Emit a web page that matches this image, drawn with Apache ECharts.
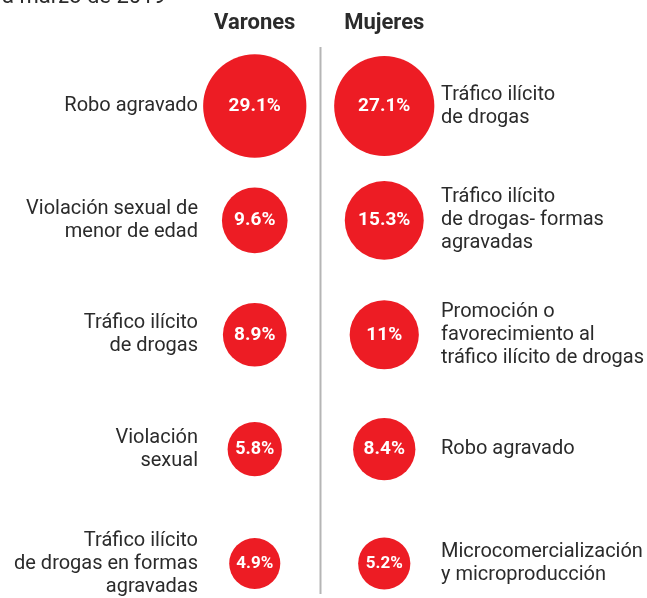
<!DOCTYPE html>
<html>
<head>
<meta charset="utf-8">
<script src="https://cdn.jsdelivr.net/npm/echarts@6/dist/echarts.min.js"></script>
<style>
html, body { margin: 0; padding: 0; background: #fff; }
#chart { width: 647px; height: 598px; }
</style>
</head>
<body>
<div id="chart"></div>
<script>
// columnas
const groups = ['Varones', 'Mujeres']

// delitos y porcentajes - varones
const varonesDelitos = [
  'Robo agravado',
  'Violación sexual de\nmenor de edad',
  'Tráfico ilícito\nde drogas',
  'Violación\nsexual',
  'Tráfico ilícito\nde drogas en formas\nagravadas'
]
const varonesPct = [29.1, 9.6, 8.9, 5.8, 4.9]

// delitos y porcentajes - mujeres
const mujeresDelitos = [
  'Tráfico ilícito\nde drogas',
  'Tráfico ilícito\nde drogas- formas\nagravadas',
  'Promoción o\nfavorecimiento al\ntráfico ilícito de drogas',
  'Robo agravado',
  'Microcomercialización\ny microproducción'
]
const mujeresPct = [27.1, 15.3, 11, 8.4, 5.2]

const textColor = '#2b2b2b'
const red = '#ed1c24'
const font = 'Roboto'

// diametro del circulo segun el porcentaje
const bubbleSize = (v) => 2 * (7.4 + 8.2 * Math.sqrt(v))

const toItems = (g, vals) => vals.map((v, i) => {
  const d = bubbleSize(v)
  return {
    value: [g, i, v],
    symbolSize: d,
    label: { fontSize: Math.min(19, Math.round(d / 3.0)) }
  }
})

const chart = echarts.init(document.getElementById('chart'))

const seriesBase = {
  type: 'scatter',
  symbol: 'circle',
  itemStyle: { color: red, opacity: 1 },
  label: {
    show: true,
    position: 'inside',
    color: '#fff',
    fontWeight: 'bold',
    fontFamily: font,
    formatter: (p) => p.data.value[2] + '%'
  },
  emphasis: { disabled: true }
}

chart.setOption({
  animation: false,
  grid: { left: 190, right: 197, top: 106, bottom: 33 },
  xAxis: {
    type: 'category',
    position: 'top',
    data: groups,
    boundaryGap: true,
    axisLine: { show: false },
    axisTick: { show: false },
    axisLabel: {
      margin: 72,
      color: textColor,
      fontFamily: font,
      fontWeight: 'bold',
      fontSize: 22
    }
  },
  yAxis: [
    {
      type: 'category',
      position: 'left',
      data: varonesDelitos,
      inverse: true,
      boundaryGap: false,
      axisLine: { show: false },
      axisTick: { show: false },
      splitLine: { show: false },
      axisLabel: {
        margin: -8,
        color: textColor,
        fontFamily: font,
        fontSize: 20,
        lineHeight: 23,
        align: 'right'
      }
    },
    {
      type: 'category',
      position: 'right',
      data: mujeresDelitos,
      inverse: true,
      boundaryGap: false,
      axisLine: { show: false },
      axisTick: { show: false },
      splitLine: { show: false },
      axisLabel: {
        margin: -8,
        color: textColor,
        fontFamily: font,
        fontSize: 20,
        lineHeight: 23,
        align: 'left'
      }
    }
  ],
  series: [
    Object.assign({}, seriesBase, { name: groups[0], data: toItems(0, varonesPct) }),
    Object.assign({}, seriesBase, { name: groups[1], data: toItems(1, mujeresPct) })
  ]
})

// linea divisoria entre columnas y titulo recortado
const x0 = chart.convertToPixel({ xAxisIndex: 0 }, 0)
const x1 = chart.convertToPixel({ xAxisIndex: 0 }, 1)
const mid = Math.round((x0 + x1) / 2) + 0.5
chart.setOption({
  graphic: [
    {
      type: 'line',
      shape: { x1: mid, y1: 47, x2: mid, y2: 594 },
      style: { stroke: '#b5b5b5', lineWidth: 2 },
      silent: true
    },
    {
      type: 'text',
      x: 2,
      y: 8,
      style: {
        text: 'a marzo de 2019',
        fill: textColor,
        font: '22px Roboto',
        verticalAlign: 'bottom'
      },
      silent: true
    }
  ]
})
</script>
</body>
</html>
